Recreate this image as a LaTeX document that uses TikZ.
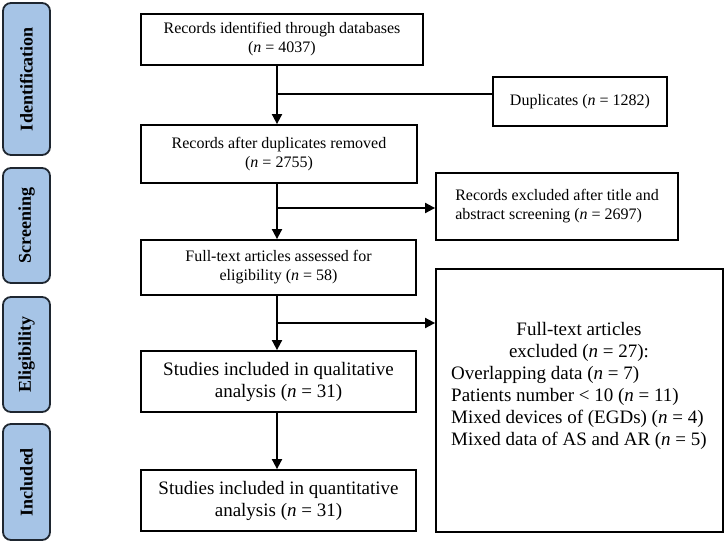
\documentclass[tikz,border=0pt]{standalone}
\usepackage{fontspec}
\setmainfont{Liberation Serif}
\usetikzlibrary{arrows.meta}
\definecolor{tabfill}{HTML}{A6C4E6}
\definecolor{tabedge}{HTML}{1E2630}
\tikzset{
  x=1pt,y=-1pt,
  box/.style={draw=black,line width=1.8pt,inner sep=0pt,align=center,fill=white},
  smalltext/.style={font=\fontsize{16}{19}\selectfont},
  bigtext/.style={font=\fontsize{19}{22}\selectfont},
  tab/.style={draw=tabedge,fill=tabfill,line width=1.8pt,rounded corners=8pt,rotate=90,
    inner sep=0pt,font=\fontsize{18}{20}\selectfont\bfseries},
  conn/.style={line width=1.8pt},
  arr/.style={conn,-{Triangle[length=10pt,width=10pt]}}
}
\begin{document}
\begin{tikzpicture}
\useasboundingbox (0,0) rectangle (725,543);
% stage tabs
\node[tab,minimum width=152,minimum height=47] (tid) at (26.5,79) {Identification};
\node[tab,minimum width=115,minimum height=47] (tsc) at (26.5,225.5) {Screening};
\node[tab,minimum width=115,minimum height=47] (tel) at (26.5,354.5) {Eligibility};
\node[tab,minimum width=116,minimum height=47] (tin) at (26.5,482) {Included};
% main column
\node[box,smalltext,minimum width=282,minimum height=51] (b1) at (282,39.5)
  {Records identified through databases\\(\textit{n} = 4037)};
\node[box,smalltext,minimum width=276,minimum height=58] (b2) at (279,154)
  {Records after duplicates removed\\(\textit{n} = 2755)};
\node[box,smalltext,minimum width=275,minimum height=55] (b3) at (278.5,267.5)
  {Full-text articles assessed for\\eligibility (\textit{n} = 58)};
\node[box,bigtext,minimum width=275,minimum height=61] (b4) at (278.5,381.5)
  {Studies included in qualitative\\analysis (\textit{n} = 31)};
\node[box,bigtext,minimum width=275,minimum height=61] (b5) at (278.5,500.5)
  {Studies included in quantitative\\analysis (\textit{n} = 31)};
% side boxes
\node[box,smalltext,minimum width=174,minimum height=49] (dup) at (580,101.5)
  {Duplicates (\textit{n} = 1282)};
\node[box,smalltext,minimum width=242,minimum height=67,align=left] (ex1) at (557,206.5)
  {Records excluded after title and\\abstract screening (\textit{n} = 2697)};
\node[box,minimum width=287,minimum height=263] (ex2) at (579.5,400.5) {};
\node[bigtext,inner sep=0pt] (ex2t) at (579,386)
  {\begin{tabular}{@{}l@{}}
   \multicolumn{1}{@{}c@{}}{Full-text articles}\\
   \multicolumn{1}{@{}c@{}}{excluded (\textit{n} = 27):}\\
   Overlapping data (\textit{n} = 7)\\
   Patients number < 10 (\textit{n} = 11)\\
   Mixed devices of (EGDs) (\textit{n} = 4)\\
   Mixed data of AS and AR (\textit{n} = 5)
   \end{tabular}};
% connectors
\coordinate (j1) at (277,94);
\coordinate (j2) at (277,208);
\coordinate (j3) at (277,323);
\draw[arr] (b1.south -| j1) -- (b2.north -| j1);
\draw[conn] (j1) -- (j1 -| dup.west);
\draw[arr] (b2.south -| j2) -- (b3.north -| j2);
\draw[arr] (j2) -- (j2 -| ex1.west);
\draw[arr] (b3.south -| j3) -- (b4.north -| j3);
\draw[arr] (j3) -- (j3 -| ex2.west);
\draw[arr] (b4.south -| j3) -- (b5.north -| j3);
\end{tikzpicture}
\end{document}
